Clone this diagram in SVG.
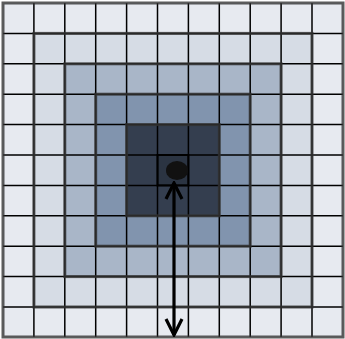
<svg xmlns="http://www.w3.org/2000/svg" width="345" height="339" viewBox="0 0 345 339">
<defs>
<style>
.grid{stroke:#000;stroke-width:1.5;fill:none}
.ring{fill:none;stroke:#333;stroke-opacity:0.8;stroke-width:3}
.arrow{stroke:#000;stroke-width:3.2;fill:none;stroke-linecap:butt}
</style>
<marker id="ah" viewBox="0 0 20 20" refX="18" refY="10" markerWidth="20" markerHeight="20" markerUnits="userSpaceOnUse" orient="auto-start-reverse">
<path d="M2,2 L18,10 L2,18" fill="none" stroke="#000" stroke-width="3.2"/>
</marker>
</defs>
<rect width="345" height="339" fill="#ffffff"/>
<g id="ring0"><rect x="3" y="3" width="340" height="334" fill="#e7eaf0"/></g>
<g id="ring1"><rect x="33.9" y="33.4" width="278.1" height="273.6" fill="#d6dce5"/></g>
<g id="ring2"><rect x="64.8" y="63.8" width="216.3" height="212.8" fill="#a9b6c8"/></g>
<g id="ring3"><rect x="95.7" y="94.2" width="154.5" height="152" fill="#8194ae"/></g>
<g id="ring4"><rect x="126.6" y="124.6" width="92.7" height="91.2" fill="#343e4f"/></g>
<g id="center"><rect x="157.5" y="155" width="30.9" height="30.4" fill="#2b3442" stroke="#000" stroke-width="2"/></g>
<g id="gridlines" class="grid">
<path d="M33.9,3V337M64.8,3V337M95.7,3V337M126.6,3V337M157.5,3V337M188.4,3V337M219.3,3V337M250.2,3V337M281.1,3V337M312,3V337"/>
<path d="M3,33.4H343M3,63.8H343M3,94.2H343M3,124.6H343M3,155H343M3,185.4H343M3,215.8H343M3,246.2H343M3,276.6H343M3,307H343"/>
</g>
<g id="ringlines">
<rect class="ring" x="3" y="3" width="340" height="334"/>
<rect class="ring" x="33.9" y="33.4" width="278.1" height="273.6"/>
<rect class="ring" x="64.8" y="63.8" width="216.3" height="212.8"/>
<rect class="ring" x="95.7" y="94.2" width="154.5" height="152"/>
<rect class="ring" x="126.6" y="124.6" width="92.7" height="91.2"/>
</g>
<g id="dot"><ellipse cx="177" cy="170.5" rx="11" ry="9.5" fill="#111"/></g>
<g id="connectors">
<line class="arrow" x1="174" y1="183" x2="174" y2="335" marker-start="url(#ah)" marker-end="url(#ah)"/>
</g>
</svg>
